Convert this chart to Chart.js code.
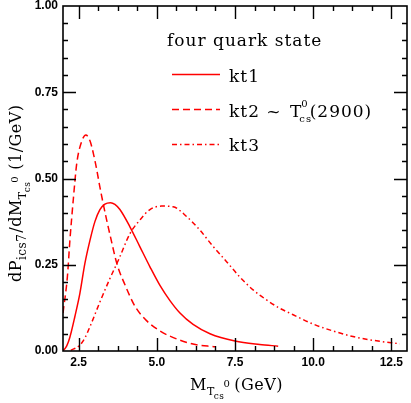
<!DOCTYPE html>
<html>
<head>
<meta charset="utf-8">
<script src="https://cdn.jsdelivr.net/npm/chart.js@4"></script>
<style>
html,body{margin:0;padding:0;background:#fff;}
#wrap{width:411px;height:403px;position:relative;}
</style>
</head>
<body>
<div id="wrap"><canvas id="c" width="411" height="403"></canvas></div>
<script>
// ---- data ----
const kt1X = [2.0, 2.12, 2.22, 2.38, 2.54, 2.70, 2.86, 3.02, 3.18, 3.34, 3.52, 3.66, 3.82, 4.14, 4.46, 4.78, 5.10, 5.42, 5.74, 6.16, 6.70, 7.50, 8.29, 8.88];
const kt1Y = [0.0, 0.015, 0.04, 0.10, 0.167, 0.254, 0.32, 0.375, 0.41, 0.426, 0.43, 0.425, 0.41, 0.36, 0.302, 0.244, 0.19, 0.146, 0.11, 0.077, 0.05, 0.029, 0.019, 0.014];

const kt2X = [2.0, 2.14, 2.22, 2.33, 2.44, 2.57, 2.73, 2.86, 2.97, 3.08, 3.18, 3.29, 3.40, 3.52, 3.72, 4.01, 4.30, 4.67, 5.10, 5.42, 6.16, 6.86];
const kt2Y = [0.11, 0.215, 0.32, 0.44, 0.544, 0.60, 0.626, 0.61, 0.573, 0.525, 0.475, 0.425, 0.378, 0.33, 0.254, 0.186, 0.13, 0.088, 0.058, 0.043, 0.02, 0.012];

const kt3X = [2.25, 2.54, 2.70, 2.86, 3.18, 3.50, 3.77, 4.14, 4.46, 4.78, 5.15, 5.52, 5.95, 6.38, 6.80, 7.23, 7.65, 8.08, 8.51, 8.93, 9.36, 10.0, 10.64, 11.27, 11.91, 12.77];
const kt3Y = [0.002, 0.017, 0.038, 0.07, 0.142, 0.21, 0.263, 0.34, 0.38, 0.41, 0.42, 0.418, 0.39, 0.35, 0.303, 0.259, 0.215, 0.177, 0.148, 0.124, 0.105, 0.078, 0.058, 0.042, 0.031, 0.021];

const xTickValues = [2.5, 5.0, 7.5, 10.0, 12.5];
const yTickValues = [0.0, 0.25, 0.5, 0.75, 1.0];
const legendTitle = 'four quark state';
const seriesNames = ['kt1', 'kt2', 'kt3'];

const toPts = (xs, ys) => xs.map((x, i) => ({x: x, y: ys[i]}));
const RED = '#ff0000';
const SERIF = '"DejaVu Serif", serif';

function drawRich(ctx, segs, x, y) {
  let cx = x;
  for (const s of segs) {
    ctx.font = (s.size) + 'px ' + SERIF;
    const px = cx + (s.dx || 0);
    ctx.fillText(s.t, px, y + (s.dy || 0));
    const w = ctx.measureText(s.t).width;
    if (!s.noAdvance) cx = px + w;
  }
  return cx;
}

const framePlugin = {
  id: 'frame',
  afterDraw(chart) {
    const ctx = chart.ctx;
    const xs = chart.scales.x, ys = chart.scales.y;
    const L = chart.chartArea.left, R = chart.chartArea.right, T = chart.chartArea.top, B = chart.chartArea.bottom;
    ctx.save();
    ctx.strokeStyle = '#000';
    ctx.lineWidth = 1.6;
    ctx.strokeRect(L, T, R - L, B - T);
    ctx.lineWidth = 1.4;
    ctx.beginPath();
    for (let k = 0; k <= 16; k++) {
      const v = 2.5 + 0.625 * k;
      const px = Math.round(xs.getPixelForValue(v)) + 0.5;
      const len = (k % 4 === 0) ? 13 : 5;
      ctx.moveTo(px, B); ctx.lineTo(px, B - len);
      ctx.moveTo(px, T); ctx.lineTo(px, T + len);
    }
    for (let k = 1; k < 20; k++) {
      const v = 0.05 * k;
      const py = Math.round(ys.getPixelForValue(v)) + 0.5;
      const len = (k % 5 === 0) ? 13 : 5;
      ctx.moveTo(L, py); ctx.lineTo(L + len, py);
      ctx.moveTo(R, py); ctx.lineTo(R - len, py);
    }
    ctx.stroke();

    // legend
    ctx.fillStyle = '#000';
    ctx.textBaseline = 'alphabetic';
    ctx.textAlign = 'left';
    ctx.letterSpacing = '1px';
    ctx.font = '17px ' + SERIF;
    ctx.fillText(legendTitle, 167, 46);
    const dashes = [[], [7, 4], [5, 3, 1.5, 3]];
    const ly = [74.5, 109.5, 144.5];
    const ty = [82, 117, 151];
    for (let i = 0; i < 3; i++) {
      ctx.strokeStyle = RED;
      ctx.lineWidth = 1.5;
      ctx.setLineDash(dashes[i]);
      ctx.beginPath();
      ctx.moveTo(172, ly[i]); ctx.lineTo(220, ly[i]);
      ctx.stroke();
    }
    ctx.setLineDash([]);
    ctx.fillStyle = '#000';
    ctx.font = '17px ' + SERIF;
    ctx.fillText(seriesNames[0], 229, ty[0]);
    ctx.fillText(seriesNames[2], 229, ty[2]);
    drawRich(ctx, [
      {t: seriesNames[1] + ' ~ ', size: 17},
      {t: 'T', size: 17, dx: 2},
      {t: 'cs', size: 10, dy: 5, dx: -3, noAdvance: true},
      {t: '0', size: 10, dy: -10, dx: -1},
      {t: '(2900)', size: 17, dx: 1}
    ], 229, ty[1]);

    // x axis title
    ctx.letterSpacing = '0.5px';
    drawRich(ctx, [
      {t: 'M', size: 16},
      {t: 'T', size: 11, dy: 5, dx: 0},
      {t: 'cs', size: 9, dy: 9, dx: -1},
      {t: '0', size: 10, dy: -3, dx: -1},
      {t: '(GeV)', size: 16, dx: 4}
    ], 190, 390);

    // y axis title (rotated)
    ctx.translate(21, 282);
    ctx.rotate(-Math.PI / 2);
    drawRich(ctx, [
      {t: 'dP', size: 16},
      {t: 'ics7', size: 12, dy: 5},
      {t: '/dM', size: 16, dx: 1},
      {t: 'T', size: 11, dy: 5, dx: 0},
      {t: 'cs', size: 9, dy: 9, dx: -1},
      {t: '0', size: 10, dy: -3, dx: -1},
      {t: '(1/GeV)', size: 16, dx: 6}
    ], 0, 0);
    ctx.restore();
  }
};

const common = {showLine: true, pointRadius: 0, borderColor: RED, borderWidth: 1.5, fill: false, cubicInterpolationMode: 'monotone'};

new Chart(document.getElementById('c'), {
  type: 'scatter',
  data: {
    datasets: [
      Object.assign({label: seriesNames[0], data: toPts(kt1X, kt1Y), borderDash: []}, common),
      Object.assign({label: seriesNames[1], data: toPts(kt2X, kt2Y), borderDash: [7, 4]}, common),
      Object.assign({label: seriesNames[2], data: toPts(kt3X, kt3Y), borderDash: [5, 3, 1.5, 3]}, common)
    ]
  },
  options: {
    responsive: false,
    animation: false,
    devicePixelRatio: 1,
    layout: {padding: {top: 6, right: 4, left: 0, bottom: 0}},
    plugins: {legend: {display: false}, tooltip: {enabled: false}},
    scales: {
      x: {
        type: 'linear', min: 2, max: 13,
        afterBuildTicks(s) { s.ticks = xTickValues.map(v => ({value: v})); },
        afterFit(s) { s.height = 52; s.paddingLeft = 0; s.paddingRight = 0; },
        grid: {display: false, drawTicks: false},
        border: {display: false},
        ticks: {padding: 4, color: '#000', font: {family: '"Liberation Sans", Arial, sans-serif', size: 12, weight: 'bold'},
                maxRotation: 0, autoSkip: false, callback: v => Number(v).toFixed(1)}
      },
      y: {
        type: 'linear', min: 0, max: 1,
        afterBuildTicks(s) { s.ticks = yTickValues.map(v => ({value: v})); },
        afterFit(s) { s.width = 63; s.paddingTop = 0; s.paddingBottom = 0; },
        grid: {display: false, drawTicks: false},
        border: {display: false},
        ticks: {padding: 5, color: '#000', font: {family: '"Liberation Sans", Arial, sans-serif', size: 12, weight: 'bold'},
                autoSkip: false, callback: v => Number(v).toFixed(2)}
      }
    }
  },
  plugins: [framePlugin]
});
</script>
</body>
</html>
